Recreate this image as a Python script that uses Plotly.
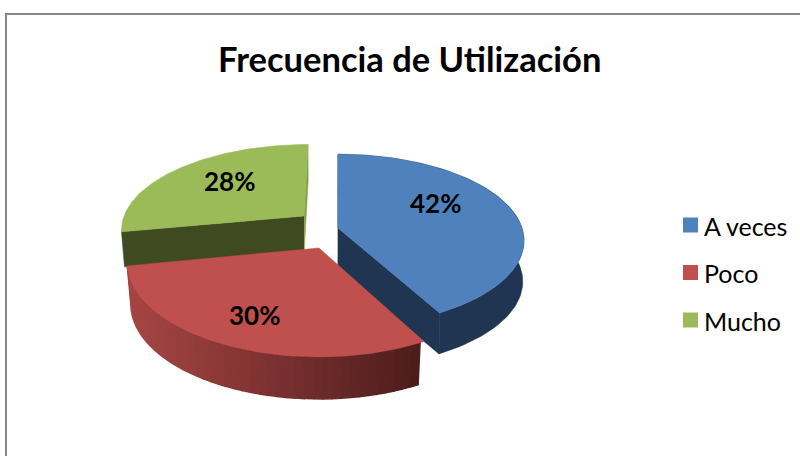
import numpy as np
import plotly.graph_objects as go

# ---- data ----
categories = ["A veces", "Poco", "Mucho"]
percents = [42, 30, 28]
colors = ["#4F81BD", "#C0504D", "#9BBB59"]
title_text = "Frecuencia de Utilización"

# ---- 3D look of each slice (apex px, scales, depth) ----
apex_x = [338, 319, 304]
apex_y = [228, 248, 216]
scale_x = [184, 190, 180]
scale_y = [84.5, 93, 82]
shear = [0, 0, 4]
depth = [41, 42, 35]
wall_color = ["#1F3552", "#8A3A38", "#3F4A20"]
label_x = [435, 254, 229]
label_y = [203, 315, 181]
persp = 0.146
conv_x = 322
conv_q = [0.006, 0.02, 0.015]
draw_order = [2, 0, 1]
red_stops = [(0.0, (166, 70, 67)), (0.5, (122, 48, 48)), (1.0, (74, 28, 26))]
legend_box_x = 690.5
legend_text_x = 704
legend_text_size = 25
legend_y = [225, 272.5, 320]
FONT = "Lato"

total = sum(percents)
bounds = np.cumsum([0] + percents) / total * 2 * np.pi


def rim(i, theta):
    u, v = np.sin(theta), np.cos(theta)
    w = 1 + persp * v
    return (apex_x[i] + scale_x[i] * u / w + shear[i] * v,
            apex_y[i] - scale_y[i] * v / w)


def drop(i, x, y):
    return x + (conv_x - x) * conv_q[i], y + depth[i]


def poly(xs, ys, color, lw=0.5):
    return go.Scatter(x=list(xs), y=list(ys), mode="lines", fill="toself",
                      fillcolor=color, line=dict(color=color, width=lw),
                      hoverinfo="skip", showlegend=False)


def mix(t):
    for (a, ca), (b, cb) in zip(red_stops, red_stops[1:]):
        if t <= b:
            f = (t - a) / (b - a)
            c = [ca[k] + (cb[k] - ca[k]) * f for k in range(3)]
            return "rgb(%d,%d,%d)" % tuple(c)
    return "rgb(%d,%d,%d)" % red_stops[-1][1]


fig = go.Figure()
for i in draw_order:
    th = np.linspace(bounds[i], bounds[i + 1], 90)
    rx, ry = rim(i, th)
    # radial walls
    for t_end in (bounds[i], bounds[i + 1]):
        if i == 1:
            continue
        ex, ey = rim(i, np.array(t_end))
        ax, ay = apex_x[i], apex_y[i]
        bx, by = drop(i, ax, ay)
        cx, cy = drop(i, ex, ey)
        wc = wall_color[i]
        if i == 2 and t_end == bounds[i + 1]:
            wc = "#83A04A"
        fig.add_trace(poly([ax, ex, cx, bx], [ay, ey, cy, by], wc))
    # outer curved wall
    dx, dy = drop(i, rx, ry)
    if i == 1:
        xmin, xmax = rx.min(), rx.max()
        order = np.argsort(rx)[::2]
        rxs, rys, dxs, dys = rx[order], ry[order], dx[order], dy[order]
        for j in range(0, len(rxs) - 1):
            t = (rxs[j] - xmin) / (xmax - xmin)
            fig.add_trace(poly([rxs[j], rxs[j + 1], dxs[j + 1], dxs[j]],
                               [rys[j], rys[j + 1], dys[j + 1], dys[j]], mix(t), lw=1.5))
    elif i == 0:
        fig.add_trace(poly(np.r_[rx, dx[::-1]], np.r_[ry, dy[::-1]], wall_color[i]))
    # top face
    fig.add_trace(poly(np.r_[apex_x[i], rx, apex_x[i]],
                       np.r_[apex_y[i], ry, apex_y[i]], colors[i]))

# legend entries
for i, name in enumerate(categories):
    fig.add_trace(go.Scatter(x=[legend_box_x], y=[legend_y[i]], mode="markers", name=name,
                             hoverinfo="name", showlegend=False,
                             marker=dict(symbol="square", size=15, color=colors[i])))
    fig.add_annotation(x=legend_text_x, y=legend_y[i] + 0.5, text=name, showarrow=False,
                       xanchor="left", xshift=-2,
                       font=dict(family=FONT, size=legend_text_size, color="black"))

for i, p in enumerate(percents):
    fig.add_annotation(x=label_x[i], y=label_y[i], text="<b>%d%%</b>" % p, showarrow=False,
                       font=dict(family=FONT, size=26, color="black"))

fig.add_annotation(x=409, y=58.5, text="<b>%s</b>" % title_text, showarrow=False,
                   font=dict(family=FONT, size=34.5, color="black"))

fig.add_shape(type="rect", x0=6, y0=14, x1=830, y1=500,
              line=dict(color="#868686", width=2), fillcolor="rgba(0,0,0,0)", layer="below")

fig.update_layout(
    width=800, height=456, margin=dict(l=0, r=0, t=0, b=0),
    paper_bgcolor="white", plot_bgcolor="white",
    xaxis=dict(range=[0, 800], visible=False, fixedrange=True),
    yaxis=dict(range=[456, 0], visible=False, fixedrange=True),
)
fig.write_html("out.html", config={"displayModeBar": False},
               post_script="document.body.style.margin='0';document.body.style.overflow='hidden';")
